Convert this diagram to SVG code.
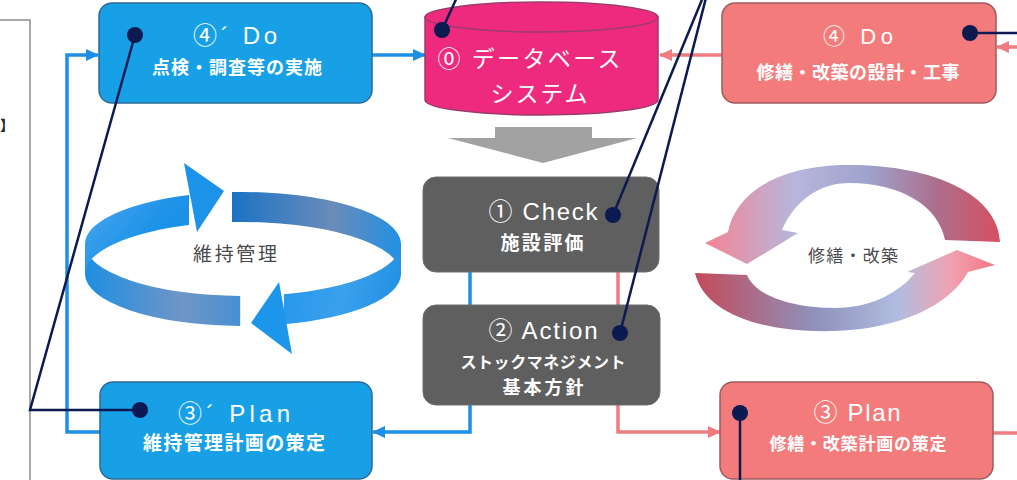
<svg xmlns="http://www.w3.org/2000/svg" width="1017" height="480" viewBox="0 0 1017 480">
  <style>
    .frame { fill: none; stroke: #8c8c8c; stroke-width: 1.5; }
    .box-blue { fill: #18a0e6; stroke: #2e6a96; stroke-width: 1.5; }
    .box-red { fill: #f37b7b; stroke: #9c5c60; stroke-width: 1.5; }
    .box-gray { fill: #5f5f5f; stroke: #6e6e6e; stroke-width: 1; }
    .db { fill: #ee2a7e; stroke: #9a3c6c; stroke-width: 1.5; }
    .ln-blue { fill: none; stroke: #1e8fe6; stroke-width: 3.5; }
    .ln-red { fill: none; stroke: #ef7c80; stroke-width: 3.5; }
    .ln-navy { fill: none; stroke: #0c1a52; stroke-width: 2.5; }
    .dot { fill: #0c1a52; }
    .t-head { font-family: "Liberation Sans", "Noto Sans CJK JP", sans-serif; fill: #ffffff; text-anchor: middle; }
    .t-sub { font-family: "Noto Sans CJK JP", sans-serif; font-weight: bold; fill: #ffffff; text-anchor: middle; }
    .t-cycle { font-family: "Noto Sans CJK JP", sans-serif; fill: #4a4a4a; text-anchor: middle; }
  </style>
  <defs>
    <marker id="arrow-blue" markerUnits="userSpaceOnUse" markerWidth="14" markerHeight="14" refX="12" refY="7" orient="auto">
      <path d="M0,1 L13,7 L0,13 Z" fill="#1e8fe6"/>
    </marker>
    <marker id="arrow-red" markerUnits="userSpaceOnUse" markerWidth="14" markerHeight="14" refX="12" refY="7" orient="auto">
      <path d="M0,1 L13,7 L0,13 Z" fill="#ef7c80"/>
    </marker>
    <linearGradient id="g-blue-front" gradientUnits="userSpaceOnUse" x1="85" y1="0" x2="300" y2="0">
      <stop offset="0" stop-color="#1e8ee2"/>
      <stop offset="0.45" stop-color="#6f96c6"/>
      <stop offset="1" stop-color="#1f88de"/>
    </linearGradient>
    <linearGradient id="g-blue-back" gradientUnits="userSpaceOnUse" x1="230" y1="0" x2="402" y2="0">
      <stop offset="0" stop-color="#1a72c4"/>
      <stop offset="0.6" stop-color="#6a8cba"/>
      <stop offset="1" stop-color="#1f90e4"/>
    </linearGradient>
    <linearGradient id="g-blue-bright" gradientUnits="userSpaceOnUse" x1="85" y1="160" x2="230" y2="290">
      <stop offset="0" stop-color="#5aaef0"/>
      <stop offset="0.5" stop-color="#1c92e8"/>
      <stop offset="1" stop-color="#1a8ee6"/>
    </linearGradient>
    <linearGradient id="g-blue-head2" gradientUnits="userSpaceOnUse" x1="250" y1="280" x2="402" y2="320">
      <stop offset="0" stop-color="#1c94ea"/>
      <stop offset="0.6" stop-color="#3aa0ec"/>
      <stop offset="1" stop-color="#1e8ee2"/>
    </linearGradient>
    <linearGradient id="g-red-upper" gradientUnits="userSpaceOnUse" x1="705" y1="0" x2="1003" y2="0">
      <stop offset="0" stop-color="#f48492"/>
      <stop offset="0.3" stop-color="#b8b6dc"/>
      <stop offset="0.55" stop-color="#9ea2cc"/>
      <stop offset="0.78" stop-color="#ad6e8c"/>
      <stop offset="1" stop-color="#d84e5e"/>
    </linearGradient>
    <linearGradient id="g-red-lower" gradientUnits="userSpaceOnUse" x1="695" y1="0" x2="995" y2="0">
      <stop offset="0" stop-color="#c44a5a"/>
      <stop offset="0.4" stop-color="#8e92bc"/>
      <stop offset="0.68" stop-color="#b2bce0"/>
      <stop offset="0.85" stop-color="#f0a2b2"/>
      <stop offset="1" stop-color="#f27684"/>
    </linearGradient>
  </defs>

  <rect width="1017" height="480" fill="#ffffff"/>

  <!-- left legend frame, mostly outside the view -->
  <g id="legend-frame">
    <path class="frame" d="M-2,20 L30,20 L30,482"/>
    <text x="14" y="130" font-family="Noto Sans CJK JP, sans-serif" font-weight="bold" font-size="14" fill="#222" text-anchor="end">】</text>
  </g>

  <!-- maintenance cycle (blue ribbon) -->
  <g id="cycle-maintenance">
    <path d="M232,192.1 A158,52 0 0 1 401,244 L401,274 A158,52 0 0 0 232,222.1 Z" fill="url(#g-blue-back)"/>
    <path d="M401,244 A158,52 0 0 1 283.9,294.2 L283.9,324.2 A158,52 0 0 0 401,274 Z" fill="url(#g-blue-head2)"/>
    <polygon points="279,282 292,354 251,323" fill="#1c96ea"/>
    <path d="M240.2,296 A158,52 0 0 1 85,244 L85,274 A158,52 0 0 0 240.2,326 Z" fill="url(#g-blue-front)"/>
    <path d="M85,244 A158,52 0 0 1 189,195.1 L189,225.1 A158,52 0 0 0 85,274 Z" fill="url(#g-blue-bright)"/>
    <polygon points="184,163 197,232 224,191" fill="#1c92e8"/>
    <text class="t-cycle" x="235" y="261" font-size="19" textLength="84">維持管理</text>
  </g>

  <!-- repair / renewal cycle (red ribbon) -->
  <g id="cycle-repair">
    <path d="M1000,242 C998,195 935,165 849,165 C775,165 735,195 728,232 L705,243 L747,264 L798,233 L782,230 C795,200 820,183 849,183 C900,183 938,205 945,240 Z" fill="url(#g-red-upper)"/>
    <path d="M695,273 C705,315 765,333 835,331 C900,329 950,305 968,272 L995,265 L957,250 L907,272 L915,273 C895,297 865,308 835,308 C790,308 755,295 747,275 Z" fill="url(#g-red-lower)"/>
    <text class="t-cycle" x="853" y="262" font-size="17" textLength="90" fill="#444">修繕・改築</text>
  </g>

  <!-- flow arrow from database to evaluation -->
  <polygon id="flow-down" points="495,127 592,127 592,138 637,138 543,163 448,138 495,138" fill="#a2a2a2"/>

  <!-- connectors -->
  <g id="connectors">
    <path class="ln-blue" d="M100,432 L67,432 L67,55 L98,55" marker-end="url(#arrow-blue)"/>
    <path class="ln-blue" d="M372,55 L425,55" marker-end="url(#arrow-blue)"/>
    <path class="ln-blue" d="M470,272 L470,305"/>
    <path class="ln-blue" d="M470,405 L470,432 L373,432" marker-end="url(#arrow-blue)"/>
    <path class="ln-red" d="M618,272 L618,305"/>
    <path class="ln-red" d="M618,405 L618,432 L720,432" marker-end="url(#arrow-red)"/>
    <path class="ln-red" d="M722,55 L660,55" marker-end="url(#arrow-red)"/>
    <path class="ln-red" d="M1020,47 L997,47" marker-end="url(#arrow-red)"/>
    <path class="ln-red" d="M993,433 L1020,433"/>
  </g>

  <!-- nodes -->
  <g id="node-do-maint">
    <rect class="box-blue" x="99" y="3" width="273" height="100" rx="13"/>
    <text class="t-head" x="235" y="44" font-size="24" textLength="84">④´ Do</text>
    <text class="t-sub" x="237" y="74" font-size="18" textLength="170">点検・調査等の実施</text>
  </g>

  <g id="node-database">
    <path class="db" d="M425,17 L425,100 A116.5,15 0 0 0 658,100 L658,17 Z"/>
    <ellipse class="db" cx="541.5" cy="17" rx="116.5" ry="15"/>
    <text class="t-head" x="529" y="67" font-size="23" textLength="183">⓪ データベース</text>
    <text class="t-head" x="539" y="102" font-size="23" textLength="97">システム</text>
  </g>

  <g id="node-do-repair">
    <rect class="box-red" x="722" y="3" width="274" height="100" rx="13"/>
    <text class="t-head" x="858" y="44" font-size="22" textLength="70">④ Do</text>
    <text class="t-sub" x="858" y="79" font-size="18" textLength="203">修繕・改築の設計・工事</text>
  </g>

  <g id="node-check">
    <rect class="box-gray" x="423" y="177" width="236" height="95" rx="13"/>
    <text class="t-head" x="543" y="220" font-size="24" textLength="109">① Check</text>
    <text class="t-sub" x="542" y="250" font-size="19" textLength="83">施設評価</text>
  </g>

  <g id="node-action">
    <rect class="box-gray" x="423" y="305" width="237" height="100" rx="13"/>
    <text class="t-head" x="543" y="339" font-size="24" textLength="109">② Action</text>
    <text class="t-sub" x="543" y="368" font-size="16" textLength="165">ストックマネジメント</text>
    <text class="t-sub" x="543" y="394" font-size="18" textLength="81">基本方針</text>
  </g>

  <g id="node-plan-maint">
    <rect class="box-blue" x="100" y="382" width="272" height="97" rx="13"/>
    <text class="t-head" x="234" y="422" font-size="24" textLength="112">③´ Plan</text>
    <text class="t-sub" x="234" y="450" font-size="19" textLength="182">維持管理計画の策定</text>
  </g>

  <g id="node-plan-repair">
    <rect class="box-red" x="720" y="382" width="273" height="97" rx="13"/>
    <text class="t-head" x="857" y="421" font-size="24" textLength="87">③ Plan</text>
    <text class="t-sub" x="858" y="450" font-size="17" textLength="177">修繕・改築計画の策定</text>
  </g>

  <!-- pointer lines with anchor dots -->
  <g id="pointers">
    <path class="ln-navy" d="M135,35 L30,410 L140,410"/>
    <path class="ln-navy" d="M442,30 L458,-5"/>
    <path class="ln-navy" d="M613,215 L706,-10"/>
    <path class="ln-navy" d="M620,333 L708,-10"/>
    <path class="ln-navy" d="M970,33 L1020,33"/>
    <path class="ln-navy" d="M740,413 L740,482"/>
    <circle class="dot" cx="135" cy="35" r="8"/>
    <circle class="dot" cx="140" cy="410" r="8"/>
    <circle class="dot" cx="442" cy="30" r="8"/>
    <circle class="dot" cx="613" cy="215" r="8"/>
    <circle class="dot" cx="620" cy="333" r="8"/>
    <circle class="dot" cx="970" cy="33" r="8"/>
    <circle class="dot" cx="740" cy="413" r="8"/>
  </g>
</svg>
